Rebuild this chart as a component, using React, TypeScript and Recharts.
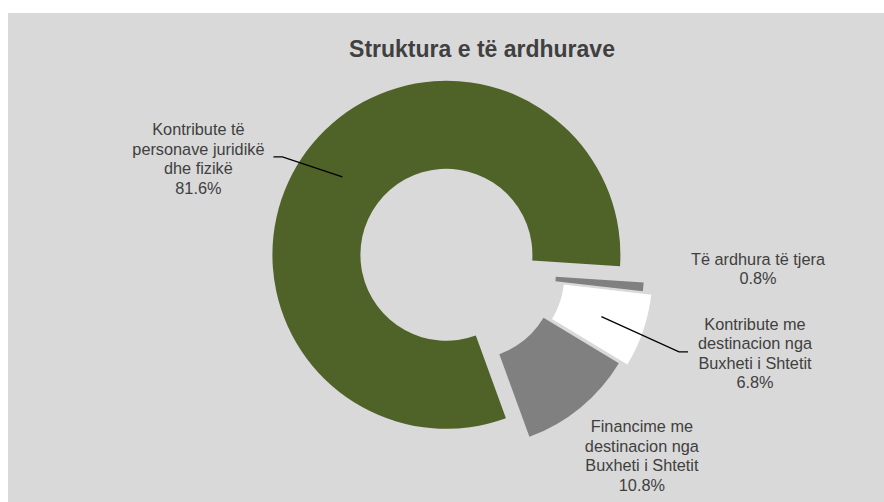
import React from 'react';
import { PieChart, Pie, Cell } from 'recharts';

const CATEGORIES = [
  'Kontribute të personave juridikë dhe fizikë',
  'Të ardhura të tjera',
  'Kontribute me destinacion nga Buxheti i Shtetit',
  'Financime me destinacion nga Buxheti i Shtetit',
];
const VALUES = [81.6, 0.8, 6.8, 10.8];
const LABEL_LINES = [
  ['Kontribute të', 'personave juridikë', 'dhe fizikë'],
  ['Të ardhura të tjera'],
  ['Kontribute me', 'destinacion nga', 'Buxheti i Shtetit'],
  ['Financime me', 'destinacion nga', 'Buxheti i Shtetit'],
];
const TITLE = 'Struktura e të ardhurave';

const COLORS = ['#4f6228', '#808080', '#ffffff', '#808080'];
const EXPLODE = [27, 2, 11, 3];

// layout (style) config
const W = 876;
const H = 489;
const BASE_CX = 455;
const BASE_CY = 253;
const INNER_R = 86;
const OUTER_R = 174;
const START = -70;
const LINE_H = 19.5;
const FONT = '"Liberation Sans", Arial, sans-serif';
const TEXT_COLOR = '#404040';

// label placement relative to each slice's own center
const LABEL_LAYOUT = [
  { dx: -248, dy: -96.5, leader: { ex: -173, ey: -98, bx: -164 } },
  { dx: 288, dy: -2.7, leader: null },
  { dx: 276.6, dy: 78.4, leader: { ex: 209.6, ey: 77.4, bx: 200.6 } },
  { dx: 172, dy: 182, leader: null },
];

const data = CATEGORIES.map((name, i) => ({ name, value: VALUES[i] }));
const total = VALUES.reduce((a, b) => a + b, 0);
const RAD = Math.PI / 180;

const mids: number[] = [];
{
  let cum = 0;
  VALUES.forEach((v) => {
    mids.push(START - (360 * (cum + v / 2)) / total);
    cum += v;
  });
}

const makeLabel = (k: number) => (props: any) => {
  if (props.index !== k) return <g key={`e-${k}-${props.index}`} />;
  const { cx, cy, midAngle, innerRadius, outerRadius, percent } = props;
  const L = LABEL_LAYOUT[k];
  const lines = [...LABEL_LINES[k], `${(percent * 100).toFixed(1)}%`];
  const tx = cx + L.dx;
  const ty = cy + L.dy;
  const n = lines.length;
  const mr = (innerRadius + outerRadius) / 2;
  const sx = cx + mr * Math.cos(midAngle * RAD);
  const sy = cy - mr * Math.sin(midAngle * RAD);
  return (
    <g key={`lbl-${k}`}>
      {L.leader && (
        <polyline
          points={`${sx},${sy} ${cx + L.leader.bx},${cy + L.leader.ey} ${cx + L.leader.ex},${cy + L.leader.ey}`}
          fill="none"
          stroke="#000"
          strokeWidth={1.3}
        />
      )}
      <text
        x={tx}
        y={ty}
        textAnchor="middle"
        fontFamily={FONT}
        fontSize={16.3}
        fill={TEXT_COLOR}
      >
        {lines.map((ln, i) => (
          <tspan
            key={i}
            x={tx}
            y={ty + (i - (n - 1) / 2) * LINE_H}
            dominantBaseline="central"
          >
            {ln}
          </tspan>
        ))}
      </text>
    </g>
  );
};

export default function App() {
  return (
    <div
      style={{
        position: 'fixed',
        left: 8,
        top: 13,
        width: W,
        height: H,
        background: '#d9d9d9',
        overflow: 'hidden',
      }}
    >
      <div
        style={{
          position: 'absolute',
          left: 274,
          top: 24.5,
          width: 400,
          textAlign: 'center',
          fontFamily: FONT,
          fontWeight: 'bold',
          fontSize: 23,
          lineHeight: '23px',
          color: TEXT_COLOR,
          whiteSpace: 'nowrap',
        }}
      >
        {TITLE}
      </div>
      <PieChart width={W} height={H} style={{ position: 'absolute', left: 0, top: 0 }}>
        {VALUES.map((_, k) => (
          <Pie
            key={k}
            data={data}
            dataKey="value"
            nameKey="name"
            cx={BASE_CX + EXPLODE[k] * Math.cos(mids[k] * RAD)}
            cy={BASE_CY - EXPLODE[k] * Math.sin(mids[k] * RAD)}
            innerRadius={INNER_R}
            outerRadius={OUTER_R}
            startAngle={START}
            endAngle={START - 360}
            paddingAngle={0}
            stroke="none"
            isAnimationActive={false}
            label={makeLabel(k)}
            labelLine={false}
          >
            {data.map((_, i) => (
              <Cell key={i} fill={i === k ? COLORS[i] : 'none'} stroke="none" />
            ))}
          </Pie>
        ))}
      </PieChart>
    </div>
  );
}
